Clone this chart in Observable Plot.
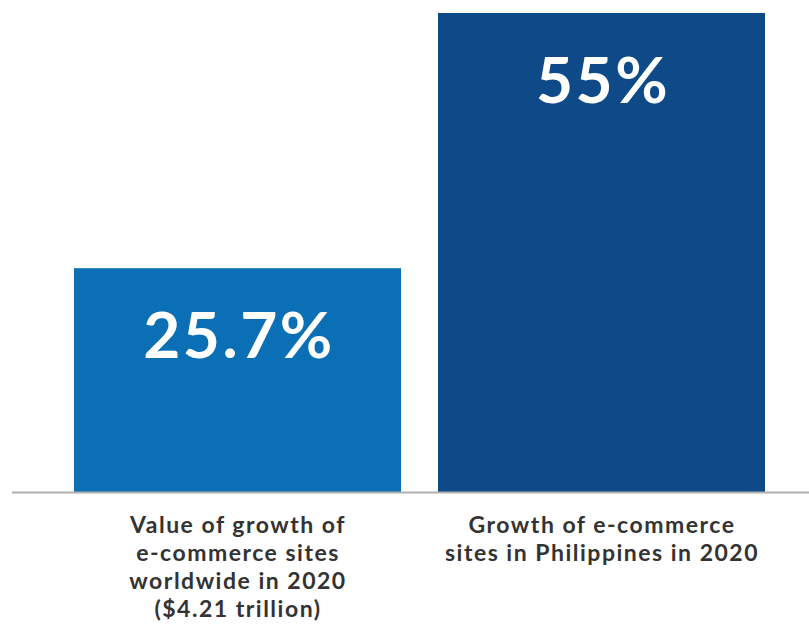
<!DOCTYPE html>
<html>
<head>
<meta charset="utf-8">
<script src="https://cdn.jsdelivr.net/npm/d3@7"></script>
<script src="https://cdn.jsdelivr.net/npm/@observablehq/plot@0.6"></script>
<style>
  html, body { margin: 0; padding: 0; background: #fff; }
  #chart svg { display: block; }
  #chart g[aria-label="text"] text { letter-spacing: 2.5px; }
  #chart g[aria-label="x-axis tick label"] text { letter-spacing: 1.5px; }
</style>
</head>
<body>
<div id="chart"></div>
<script>
const categories = ["worldwide", "philippines"];
const values = [25.7, 55];
const valueLabels = ["25.7%", "55%"];
const categoryLabels = [
  "Value of growth of\ne-commerce sites\nworldwide in 2020\n($4.21 trillion)",
  "Growth of e-commerce\nsites in Philippines in 2020"
];
const colors = ["#0b6fb5", "#0e4a87"];

const data = categories.map((c, i) => ({
  category: c, value: values[i], label: valueLabels[i], name: categoryLabels[i], color: colors[i]
}));

const chart = Plot.plot({
  width: 809,
  height: 628,
  marginTop: 13,
  marginBottom: 136,
  marginLeft: 73,
  marginRight: 44,
  style: { fontFamily: "Lato, sans-serif", background: "#fff" },
  x: { domain: categories, paddingInner: 0.102, paddingOuter: 0, label: null },
  y: { domain: [0, 55], axis: null },
  marks: [
    Plot.barY(data, { x: "category", y: "value", fill: "color" }),
    Plot.ruleY([0], { stroke: "#b0b0b0", strokeWidth: 2, insetLeft: -61, insetRight: -44 }),
    Plot.text(data, {
      x: "category", y: "value", text: "label", fill: "#fff",
      fontSize: 64, fontWeight: "bold", dy: 69, dx: 1, lineAnchor: "middle"
    }),
    Plot.axisX({
      tickSize: 0, tickPadding: 21, fontSize: 23, fontWeight: "bold",
      fill: "#333", lineHeight: 1.217, label: null,
      tickFormat: (d) => categoryLabels[categories.indexOf(d)]
    })
  ]
});
document.getElementById("chart").appendChild(chart);
</script>
</body>
</html>
